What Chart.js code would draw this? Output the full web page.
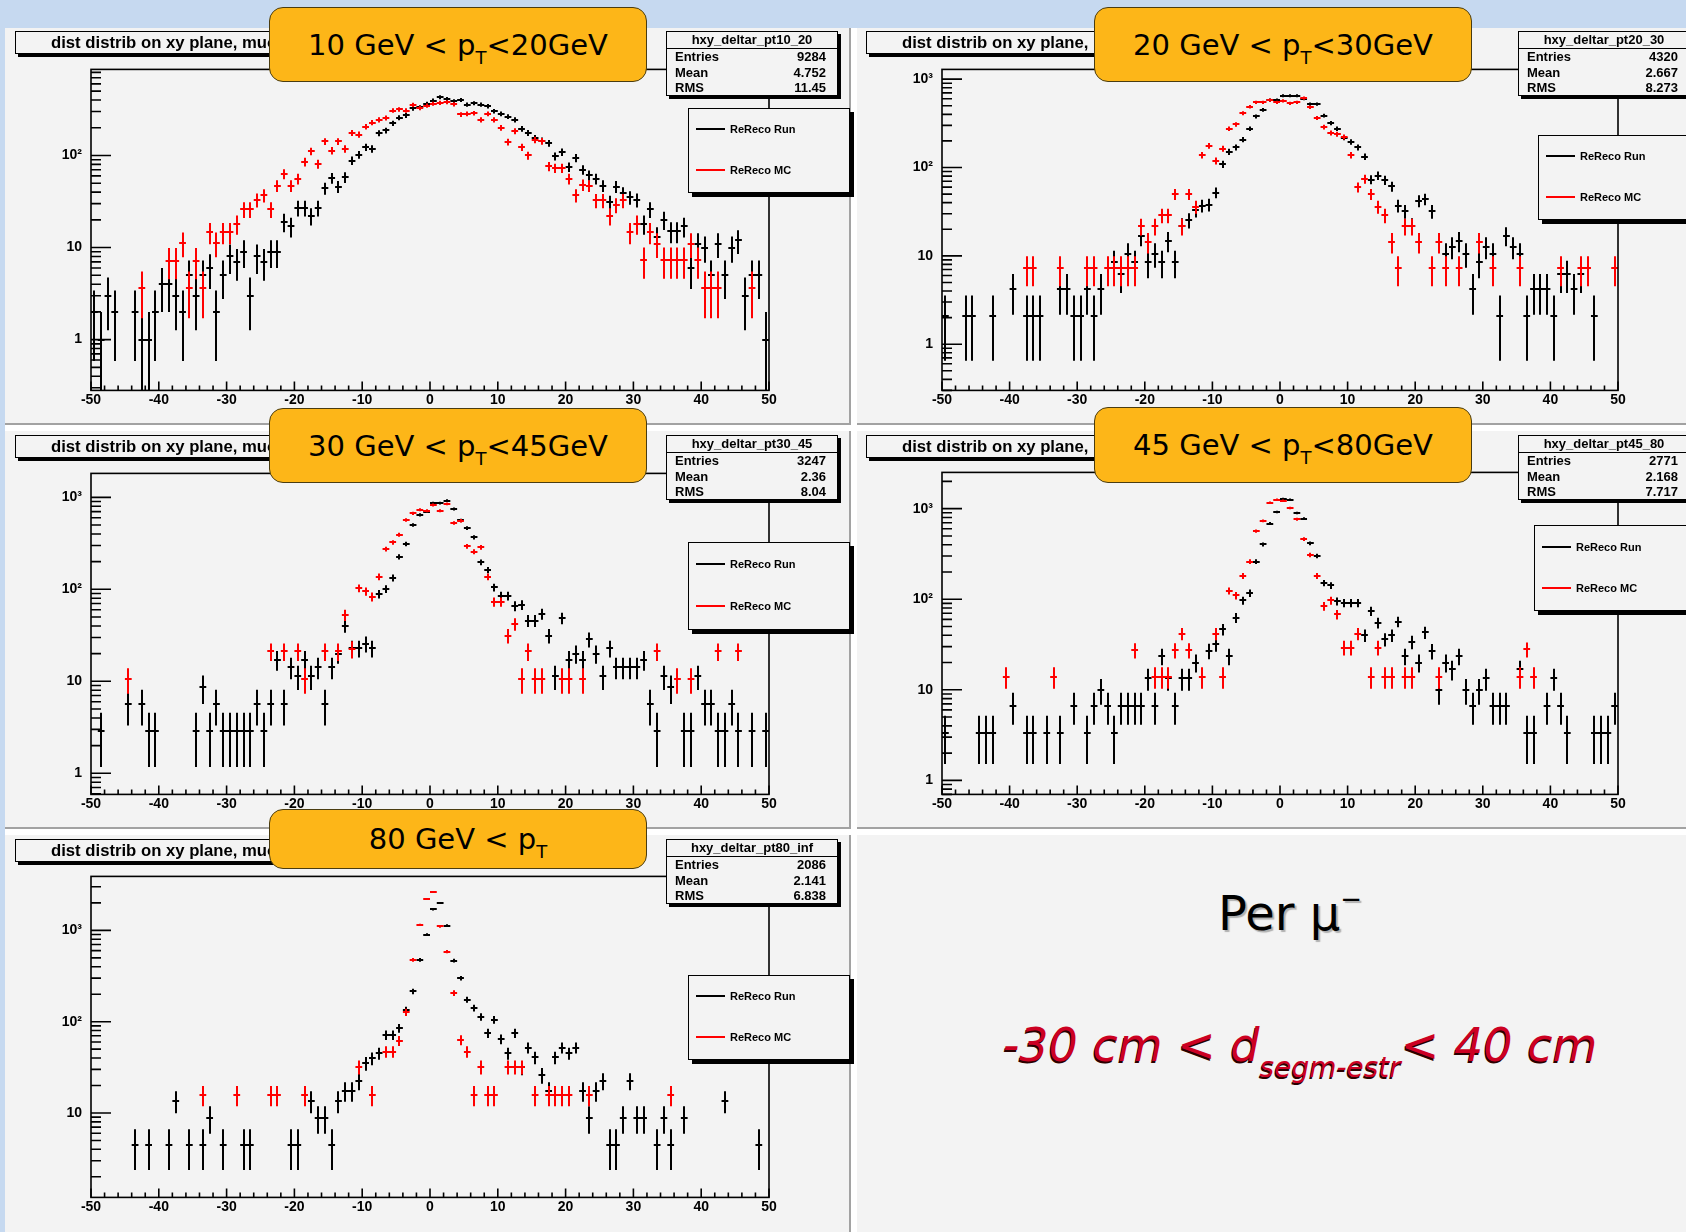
<!DOCTYPE html>
<html>
<head>
<meta charset="utf-8">
<script src="https://cdn.jsdelivr.net/npm/chart.js@4.4.0/dist/chart.umd.min.js"></script>
<style>
  body { margin: 0; background: #fff; }
  #page { position: relative; width: 1686px; height: 1232px; overflow: hidden; background: #fff; }
  .band { position: absolute; background: #c6d9f0; }
  .panel { position: absolute; background: #f3f3f3; border-right: 2px solid #a2a2a2; border-bottom: 2px solid #a2a2a2; box-sizing: border-box; }
  canvas { position: absolute; }
  .pave { position: absolute; background: #f3f3f3; border: 1.5px solid #000; box-shadow: 3px 3px 0 #000; box-sizing: border-box;
          font-family: 'Liberation Sans', Arial, sans-serif; font-weight: bold; color: #000; overflow: hidden; }
  .title { height: 23px; width: 300px; font-size: 16.7px; line-height: 21px; padding-left: 35px; white-space: nowrap; }
  .stats { width: 172px; height: 65px; font-size: 13px; }
  .stats .hdr { height: 16px; line-height: 16px; text-align: center; border-bottom: 1.5px solid #000; }
  .stats .row { display: flex; justify-content: space-between; height: 15.5px; line-height: 15.5px; padding: 0 11px 0 8px; }
  .legend { width: 162px; font-size: 11px; }
  .legend .ent { position: absolute; left: 7px; display: flex; align-items: center; }
  .legend .ent i { display: inline-block; width: 29px; height: 0; border-top: 2px solid; margin-right: 5px; }
  .label { position: absolute; background: #fdb618; border: 1.5px solid #4a3c10; border-radius: 14px; box-sizing: border-box;
           display: flex; align-items: center; justify-content: center; font-family: 'DejaVu Sans', sans-serif; font-size: 29px; color: #000; }
  .label sub { font-size: 18px; vertical-align: -9px; line-height: 0; }
  .note { position: absolute; font-family: 'DejaVu Sans', sans-serif; text-align: center; white-space: nowrap; }
</style>
</head>
<body>
<div id="page"></div>
<script>
// bins: 100 bins of width 1 from -50 to 50
const binCenters = Array.from({length: 100}, (_, i) => -49.5 + i);
const xTickValues = [-50, -40, -30, -20, -10, 0, 10, 20, 30, 40, 50];
const yTickValues = [1, 10, 100, 1000];
const yTickText = {1: '1', 10: '10', 100: '10²', 1000: '10³'};

const run10_20 = [
  2, 1, 3, 2, 0, 0, 2, 1, 1, 2,
  4, 4, 3, 2, 5, 3, 5, 6, 2, 5,
  8, 7, 9, 3, 8, 7, 9, 9, 19, 17,
  27, 27, 22, 27, 44, 57, 46, 58, 88, 102,
  123, 118, 175, 187, 224, 257, 272, 325, 334, 364,
  395, 430, 412, 389, 402, 357, 370, 357, 343, 303,
  283, 265, 244, 195, 176, 155, 145, 136, 98, 109,
  75, 94, 70, 61, 56, 47, 31, 46, 39, 35,
  33, 18, 26, 13, 20, 15, 15, 17, 6, 11,
  10, 5, 11, 5, 10, 12, 3, 5, 5, 1];
const mc10_20 = [
  0, 0, 0, 0, 0, 0, 0, 3.6, 0, 0,
  0, 7.2, 7.2, 11.2, 3.6, 7.2, 3.6, 14.7, 11.2, 14.7,
  14.7, 18, 26, 26, 33, 37, 26, 47, 63, 47,
  56, 85, 111, 81, 142, 113, 142, 118, 176, 169,
  206, 228, 244, 256, 308, 316, 308, 355, 329, 349,
  365, 373, 379, 360, 279, 283, 288, 244, 283, 244,
  200, 140, 184, 123, 100, 148, 143, 76, 73, 73,
  56, 37, 48, 47, 32.5, 32.5, 22, 29, 32.5, 14.7,
  18, 7.3, 14.7, 11, 7.3, 7.3, 7.3, 7.3, 11, 7.3,
  3.6, 3.6, 3.6, 0, 0, 0, 0, 3.6, 0, 0];

const run20_30 = [
  2.1, 0, 0, 2.1, 2.1, 0, 0, 2.1, 0, 0,
  4.2, 0, 2.1, 2.1, 2.1, 0, 0, 4.2, 4.2, 2.1,
  2.1, 4.2, 2.1, 4.2, 0, 8.5, 6.3, 10.6, 8.5, 17,
  8.5, 10.6, 8.5, 14.8, 8.5, 22, 25.4, 33, 37, 38,
  52, 109, 151, 169, 207, 275, 378, 449, 580, 580,
  649, 649, 649, 600, 523, 523, 387, 318, 275, 218,
  195, 169, 133, 73, 81, 72, 61, 37, 32, 22,
  42, 44, 32, 0, 10.6, 12.7, 14.8, 10.6, 4.2, 8.5,
  12.7, 10.6, 2.1, 17, 12.7, 10.6, 2.1, 4.2, 4.2, 4.2,
  2.1, 6.3, 6.3, 4.2, 6.3, 0, 2.1, 0, 0, 0];
const mc20_30 = [
  0, 0, 0, 0, 0, 0, 0, 0, 0, 0,
  0, 0, 7.2, 7.2, 0, 0, 0, 7.2, 0, 0,
  0, 7.2, 7.2, 0, 7.2, 7.2, 7.2, 7.2, 7.2, 21.6,
  14.4, 21.6, 28.8, 28.8, 50, 21.6, 50, 36, 138, 176,
  119, 164, 275, 307, 412, 489, 546, 546, 580, 546,
  570, 533, 546, 611, 481, 365, 287, 246, 238, 222,
  138, 60, 74, 50, 36, 28.8, 14.4, 7.2, 21.6, 21.6,
  14.4, 0, 7.2, 14.4, 7.2, 0, 7.2, 0, 0, 14.4,
  0, 7.2, 0, 0, 0, 7.2, 0, 0, 0, 0,
  0, 7.2, 0, 0, 7.2, 7.2, 0, 0, 0, 7.2];

const run30_45 = [
  0, 2.86, 0, 0, 0, 5.7, 0, 5.7, 2.86, 2.86,
  0, 0, 0, 0, 0, 2.86, 8.6, 2.86, 5.7, 2.86,
  2.86, 2.86, 2.86, 2.86, 5.7, 2.86, 5.7, 17.2, 5.7, 14.3,
  11.4, 17.2, 11.4, 14.3, 5.7, 14.3, 20, 40, 22.9, 22.9,
  25.7, 22.9, 89, 101, 133, 226, 311, 501, 646, 700,
  867, 867, 920, 747, 560, 464, 367, 197, 162, 105,
  85, 85, 66, 68, 45.7, 45.7, 54, 31.4, 11.4, 48.6,
  17.2, 20, 17.2, 28.6, 20, 11.4, 22.9, 14.3, 14.3, 14.3,
  14.3, 17.2, 5.7, 2.86, 11.4, 8.6, 0, 2.86, 2.86, 11.4,
  5.7, 5.7, 2.86, 2.86, 5.7, 2.86, 0, 2.86, 0, 2.86];
const mc30_45 = [
  0, 0, 0, 0, 0, 10.6, 0, 0, 0, 0,
  0, 0, 0, 0, 0, 0, 0, 0, 0, 0,
  0, 0, 0, 0, 0, 0, 21.2, 0, 21.2, 0,
  21.2, 10.6, 0, 0, 21.2, 0, 21.2, 52.6, 22.5, 103,
  95, 83, 137, 274, 324, 393, 567, 670, 735, 716,
  826, 716, 847, 526, 557, 293, 257, 286, 137, 73,
  73, 31.4, 42, 10.6, 21.2, 10.6, 10.6, 0, 0, 10.6,
  10.6, 0, 10.6, 0, 0, 0, 0, 0, 0, 0,
  0, 0, 0, 21.2, 0, 0, 10.6, 0, 10.6, 0,
  0, 0, 21.2, 0, 0, 21.2, 0, 0, 0, 0];

const run45_80 = [
  3.35, 0, 0, 0, 0, 3.35, 3.35, 3.35, 0, 0,
  6.7, 0, 3.35, 3.35, 0, 3.35, 0, 3.35, 0, 6.7,
  0, 3.35, 6.7, 10, 6.7, 3.35, 6.7, 6.7, 6.7, 6.7,
  13.4, 6.7, 23.5, 13.4, 6.7, 13.4, 13.4, 20, 0, 27,
  32, 46.5, 23.5, 62.5, 97, 117, 261, 403, 685, 920,
  1285, 1256, 897, 778, 414, 301, 151, 142, 95, 91,
  91, 91, 40, 74, 55, 36, 40, 56.5, 23.5, 33.8,
  20, 43, 26.8, 10, 20, 16.8, 23.5, 10, 6.7, 10,
  13.4, 6.7, 6.7, 6.7, 0, 16.8, 3.35, 3.35, 0, 6.7,
  13.4, 6.7, 3.35, 0, 0, 0, 3.35, 3.35, 3.35, 6.7];
const mc45_80 = [
  0, 0, 0, 0, 0, 0, 0, 0, 0, 14,
  0, 0, 0, 0, 0, 0, 14, 0, 0, 0,
  0, 0, 0, 0, 0, 0, 0, 0, 27.4, 0,
  0, 14, 14, 14, 27.4, 41.7, 27.4, 0, 14, 0,
  41.7, 14, 124, 110, 181, 261, 565, 733, 1163, 1256,
  1230, 1016, 764, 462, 308, 181, 84, 97, 68, 29.3,
  29.3, 41.7, 0, 14, 29.3, 14, 14, 0, 14, 14,
  0, 0, 0, 14, 0, 0, 0, 0, 0, 0,
  0, 0, 0, 0, 0, 14, 28, 14, 0, 0,
  0, 0, 0, 0, 0, 0, 0, 0, 0, 0];

const run80_inf = [
  0, 0, 0, 0, 0, 0, 4.5, 0, 4.5, 0,
  0, 4.5, 13.6, 0, 4.5, 0, 4.5, 8.9, 0, 4.5,
  0, 0, 4.5, 4.5, 0, 0, 0, 0, 0, 4.5,
  4.5, 0, 13.6, 8.9, 8.9, 4.5, 13.6, 17.5, 17.5, 22.5,
  35, 39.6, 45, 71.4, 71.4, 85, 134, 215, 475, 900,
  1693, 2004, 1130, 467, 299, 174, 141, 113, 75, 105,
  64.5, 45, 75, 31.5, 52, 40.6, 26, 17.5, 40.6, 52,
  45, 52, 17.5, 8.9, 17.5, 22.5, 4.5, 4.5, 8.9, 22.5,
  8.9, 8.9, 0, 4.5, 8.9, 4.5, 0, 8.9, 0, 0,
  0, 0, 0, 13.6, 0, 0, 0, 0, 4.5, 0];
const mc80_inf = [
  0, 0, 0, 0, 0, 0, 0, 0, 0, 0,
  0, 0, 0, 0, 0, 0, 15.8, 0, 0, 0,
  0, 15.8, 0, 0, 0, 0, 15.8, 15.8, 0, 0,
  0, 15.8, 0, 0, 0, 0, 0, 0, 0, 32,
  0, 15.8, 0, 47, 47, 62, 127, 475, 1148, 2217,
  2625, 1103, 586, 206, 63, 47, 15.8, 32, 15.8, 15.8,
  0, 32, 32, 32, 0, 15.8, 0, 15.8, 15.8, 15.8,
  15.8, 0, 0, 15.8, 0, 0, 0, 0, 0, 0,
  0, 0, 0, 0, 0, 15.8, 0, 0, 0, 0,
  0, 0, 0, 0, 0, 0, 0, 0, 0, 0];

const histNames = ['hxy_deltar_pt10_20', 'hxy_deltar_pt20_30', 'hxy_deltar_pt30_45', 'hxy_deltar_pt45_80', 'hxy_deltar_pt80_inf'];
const statEntries = ['9284', '4320', '3247', '2771', '2086'];
const statMean = ['4.752', '2.667', '2.36', '2.168', '2.141'];
const statRms = ['11.45', '8.273', '8.04', '7.717', '6.838'];
const ptLabels = [['10 GeV < p', '<20GeV'], ['20 GeV < p', '<30GeV'], ['30 GeV < p', '<45GeV'], ['45 GeV < p', '<80GeV'], ['80 GeV < p', '']];
const seriesNames = ['ReReco Run', 'ReReco MC'];
const runSeries = [run10_20, run20_30, run30_45, run45_80, run80_inf];
const mcSeries = [mc10_20, mc20_30, mc30_45, mc45_80, mc80_inf];

// page geometry (pixels)
const layout = [
  { bg: [5, 28, 851, 425], frame: [90.5, 69.3, 768, 390], yRange: [0.281, 861],
    label: [269, 7, 378, 75], title: [15, 31], stats: [666, 31], legend: [688, 108, 85] },
  { bg: [857, 28, 1688, 425], frame: [941.7, 69.3, 1617.6, 390], yRange: [0.335, 1290],
    label: [1094, 7, 378, 75], title: [866, 31], stats: [1518, 31], legend: [1538, 135, 85] },
  { bg: [5, 431, 851, 829], frame: [90.5, 472.7, 768, 794], yRange: [0.59, 1820],
    label: [269, 408, 378, 75], title: [15, 435], stats: [666, 435], legend: [688, 542, 88] },
  { bg: [857, 431, 1688, 829], frame: [941.7, 471.7, 1617.6, 794], yRange: [0.745, 2515],
    label: [1094, 407, 378, 76], title: [866, 435], stats: [1518, 435], legend: [1534, 525, 86] },
  { bg: [5, 835, 851, 1234], frame: [90.5, 876, 768, 1196.7], yRange: [1.19, 3900],
    label: [269, 809, 378, 60], title: [15, 839], stats: [666, 839], legend: [688, 975, 85] },
];

const page = document.getElementById('page');
function add(cls, css, html) {
  const d = document.createElement('div');
  d.className = cls;
  Object.assign(d.style, css);
  if (html !== undefined) d.innerHTML = html;
  page.appendChild(d);
  return d;
}
const px = v => v + 'px';

add('band', {left: '0', top: '0', width: '1686px', height: '28px'});
add('band', {left: '0', top: '0', width: '5px', height: '1232px'});
add('panel', {left: '857px', top: '835px', width: '831px', height: '399px'});

// ROOT-like frame, ticks and error-bar markers
const rootPlot = {
  id: 'rootPlot',
  afterDatasetsDraw(chart) {
    const {ctx, chartArea: a, scales: {x, y}} = chart;
    ctx.save();
    ctx.beginPath();
    ctx.rect(a.left, a.top, a.right - a.left, a.bottom - a.top);
    ctx.clip();
    ctx.lineWidth = 2;
    chart.data.datasets.forEach(ds => {
      ctx.strokeStyle = ds.borderColor;
      ctx.beginPath();
      ds.data.forEach(p => {
        const cx = Math.round(x.getPixelForValue(p.x));
        const cy = Math.round(y.getPixelForValue(p.y));
        const e = Math.sqrt(p.y);
        ctx.moveTo(x.getPixelForValue(p.x - 0.5), cy);
        ctx.lineTo(x.getPixelForValue(p.x + 0.5), cy);
        const lo = p.y - e;
        ctx.moveTo(cx, lo > 0 ? y.getPixelForValue(lo) : a.bottom + 2);
        ctx.lineTo(cx, y.getPixelForValue(p.y + e));
      });
      ctx.stroke();
    });
    ctx.restore();

    ctx.save();
    ctx.strokeStyle = '#000';
    ctx.lineWidth = 1.6;
    ctx.strokeRect(a.left, a.top, a.right - a.left, a.bottom - a.top);
    ctx.beginPath();
    for (let v = -50; v <= 50; v += 2) {
      const tx = x.getPixelForValue(v);
      const len = v % 10 === 0 ? 9 : 5;
      ctx.moveTo(tx, a.bottom);
      ctx.lineTo(tx, a.bottom - len);
    }
    const d0 = Math.floor(Math.log10(y.min)), d1 = Math.ceil(Math.log10(y.max));
    for (let d = d0; d <= d1; d++) {
      for (let k = 1; k <= 9; k++) {
        const v = k * Math.pow(10, d);
        if (v < y.min || v > y.max) continue;
        const ty = y.getPixelForValue(v);
        ctx.moveTo(a.left, ty);
        ctx.lineTo(a.left + (k === 1 ? 20 : 10), ty);
      }
    }
    ctx.stroke();
    ctx.restore();
  }
};

const tickFont = {family: "'Liberation Sans', Arial, sans-serif", weight: 'bold', size: 14};
const toPoints = vals => binCenters.map((x, i) => ({x, y: vals[i]})).filter(p => p.y > 0);

layout.forEach((L, n) => {
  add('panel', {left: px(L.bg[0]), top: px(L.bg[1]), width: px(L.bg[2] - L.bg[0]), height: px(L.bg[3] - L.bg[1])});

  const fl = Math.round(L.frame[0]), ft = Math.round(L.frame[1]);
  const fw = Math.round(L.frame[2] - L.frame[0]), fh = Math.round(L.frame[3] - L.frame[1]);
  const padL = 60, padT = 10, padR = 10, padB = 30;
  const cv = document.createElement('canvas');
  const w = fw + padL + padR, h = fh + padT + padB;
  cv.width = w; cv.height = h;
  cv.style.left = px(fl - padL);
  cv.style.top = px(ft - padT);
  page.appendChild(cv);

  const chart = new Chart(cv.getContext('2d'), {
    type: 'scatter',
    data: {
      datasets: [
        { label: seriesNames[0], data: toPoints(runSeries[n]), borderColor: '#000000', pointRadius: 0, showLine: false },
        { label: seriesNames[1], data: toPoints(mcSeries[n]), borderColor: '#ff0000', pointRadius: 0, showLine: false }
      ]
    },
    options: {
      responsive: false,
      maintainAspectRatio: false,
      animation: false,
      devicePixelRatio: 1,
      layout: { padding: { left: 0, top: padT, right: padR, bottom: 0 } },
      plugins: { legend: { display: false }, tooltip: { enabled: false } },
      scales: {
        x: {
          type: 'linear', min: -50, max: 50,
          grid: { display: false, drawTicks: false }, border: { display: false },
          afterBuildTicks: s => { s.ticks = xTickValues.map(v => ({value: v})); },
          afterFit: s => { s.height = padB; },
          ticks: { color: '#000', font: tickFont, padding: 1, maxRotation: 0, autoSkip: false }
        },
        y: {
          type: 'logarithmic', min: L.yRange[0], max: L.yRange[1],
          grid: { display: false, drawTicks: false }, border: { display: false },
          afterBuildTicks: s => { s.ticks = yTickValues.filter(v => v >= s.min && v <= s.max).map(v => ({value: v})); },
          afterFit: s => { s.width = padL; },
          ticks: { color: '#000', font: tickFont, padding: 9, autoSkip: false, callback: v => yTickText[v] || '' }
        }
      }
    },
    plugins: [rootPlot]
  });

  // pin the plot frame to the measured position
  const a = chart.chartArea;
  const dl = a.left - padL, dt = a.top - padT, dr = (w - padR) - a.right, db = (h - padB) - a.bottom;
  if (Math.abs(dl) + Math.abs(dt) + Math.abs(dr) + Math.abs(db) > 0.5) {
    cv.style.left = px(fl - padL - dl);
    cv.style.top = px(ft - padT - dt);
    chart.resize(w + dl + dr, h + dt + db);
  }

  add('pave title', {left: px(L.title[0]), top: px(L.title[1])}, 'dist distrib on xy plane, muons');
  add('pave stats', {left: px(L.stats[0]), top: px(L.stats[1])},
    '<div class="hdr">' + histNames[n] + '</div>' +
    '<div class="row"><span>Entries</span><span>' + statEntries[n] + '</span></div>' +
    '<div class="row"><span>Mean</span><span>' + statMean[n] + '</span></div>' +
    '<div class="row"><span>RMS</span><span>' + statRms[n] + '</span></div>');
  const lh = L.legend[2];
  add('pave legend', {left: px(L.legend[0]), top: px(L.legend[1]), height: px(lh), boxShadow: '4px 4px 0 #000'},
    '<div class="ent" style="top:' + (lh * 0.25 - 7) + 'px"><i style="border-color:#000"></i>' + seriesNames[0] + '</div>' +
    '<div class="ent" style="top:' + (lh * 0.75 - 9) + 'px"><i style="border-color:#f00"></i>' + seriesNames[1] + '</div>');
  add('label', {left: px(L.label[0]), top: px(L.label[1]), width: px(L.label[2]), height: px(L.label[3])},
    '<span>' + ptLabels[n][0] + '<sub>T</sub>' + ptLabels[n][1] + '</span>');
});

add('note', {left: '1040px', top: '885px', width: '500px', fontSize: '48px', color: '#000', textShadow: '2px 2px 1px #b0b0b0'},
  'Per μ<sup style="font-size:26px;vertical-align:22px;line-height:0">−</sup>');
add('note', {left: '960px', top: '1018px', width: '680px', fontSize: '46px', fontStyle: 'italic', color: '#cc0022', textShadow: '-1px 2px 0 #2a0000'},
  '-30 cm &lt; d<sub style="font-size:28px;vertical-align:-16px;line-height:0">segm-estr</sub>&lt; 40 cm');
</script>
</body>
</html>
